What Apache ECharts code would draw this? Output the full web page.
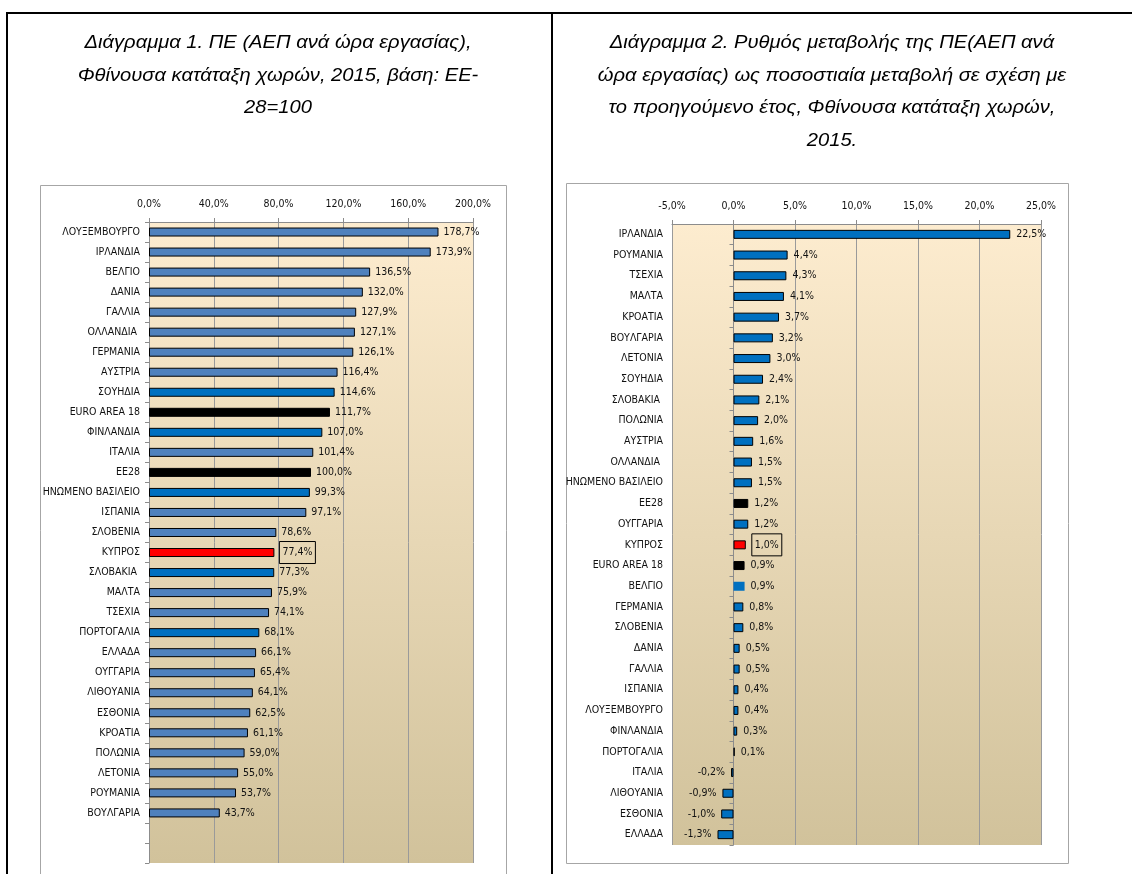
<!DOCTYPE html>
<html><head><meta charset="utf-8">
<script src="https://cdn.jsdelivr.net/npm/echarts@6/dist/echarts.min.js"></script>
<style>html,body{margin:0;padding:0;background:#fff}#c{width:1132px;height:874px}</style>
</head><body><div id="c"></div>
<script>
// ---- Data: Chart 1 (productivity, EU28=100) ----
const leftCategories = ['ΛΟΥΞΕΜΒΟΥΡΓΟ','ΙΡΛΑΝΔΙΑ','ΒΕΛΓΙΟ','ΔΑΝΙΑ','ΓΑΛΛΙΑ','ΟΛΛΑΝΔΙΑ ','ΓΕΡΜΑΝΙΑ','ΑΥΣΤΡΙΑ','ΣΟΥΗΔΙΑ','EURO AREA 18','ΦΙΝΛΑΝΔΙΑ','ΙΤΑΛΙΑ','ΕΕ28','ΗΝΩΜΕΝΟ ΒΑΣΙΛΕΙΟ','ΙΣΠΑΝΙΑ','ΣΛΟΒΕΝΙΑ','ΚΥΠΡΟΣ','ΣΛΟΒΑΚΙΑ ','ΜΑΛΤΑ','ΤΣΕΧΙΑ','ΠΟΡΤΟΓΑΛΙΑ','ΕΛΛΑΔΑ','ΟΥΓΓΑΡΙΑ','ΛΙΘΟΥΑΝΙΑ','ΕΣΘΟΝΙΑ','ΚΡΟΑΤΙΑ','ΠΟΛΩΝΙΑ','ΛΕΤΟΝΙΑ','ΡΟΥΜΑΝΙΑ','ΒΟΥΛΓΑΡΙΑ','',''];
const leftValues = [178.7,173.9,136.5,132.0,127.9,127.1,126.1,116.4,114.6,111.7,107.0,101.4,100.0,99.3,97.1,78.6,77.4,77.3,75.9,74.1,68.1,66.1,65.4,64.1,62.5,61.1,59.0,55.0,53.7,43.7];
const leftAxis = {min: 0, max: 200, interval: 40};

// ---- Data: Chart 2 (annual % change) ----
const rightCategories = ['ΙΡΛΑΝΔΙΑ','ΡΟΥΜΑΝΙΑ','ΤΣΕΧΙΑ','ΜΑΛΤΑ','ΚΡΟΑΤΙΑ','ΒΟΥΛΓΑΡΙΑ','ΛΕΤΟΝΙΑ','ΣΟΥΗΔΙΑ','ΣΛΟΒΑΚΙΑ ','ΠΟΛΩΝΙΑ','ΑΥΣΤΡΙΑ','ΟΛΛΑΝΔΙΑ ','ΗΝΩΜΕΝΟ ΒΑΣΙΛΕΙΟ','ΕΕ28','ΟΥΓΓΑΡΙΑ','ΚΥΠΡΟΣ','EURO AREA 18','ΒΕΛΓΙΟ','ΓΕΡΜΑΝΙΑ','ΣΛΟΒΕΝΙΑ','ΔΑΝΙΑ','ΓΑΛΛΙΑ','ΙΣΠΑΝΙΑ','ΛΟΥΞΕΜΒΟΥΡΓΟ','ΦΙΝΛΑΝΔΙΑ','ΠΟΡΤΟΓΑΛΙΑ','ΙΤΑΛΙΑ','ΛΙΘΟΥΑΝΙΑ','ΕΣΘΟΝΙΑ','ΕΛΛΑΔΑ'];
const rightValues = [22.5,4.4,4.3,4.1,3.7,3.2,3.0,2.4,2.1,2.0,1.6,1.5,1.5,1.2,1.2,1.0,0.9,0.9,0.8,0.8,0.5,0.5,0.4,0.4,0.3,0.1,-0.2,-0.9,-1.0,-1.3];
const rightAxis = {min: -5, max: 25, interval: 5};

// ---- Titles ----
const leftTitle = ['Διάγραμμα 1. ΠΕ (ΑΕΠ ανά ώρα εργασίας),','Φθίνουσα κατάταξη χωρών, 2015, βάση: ΕΕ-','28=100'];
const rightTitle = ['Διάγραμμα 2. Ρυθμός μεταβολής της ΠΕ(ΑΕΠ ανά','ώρα εργασίας) ως ποσοστιαία μεταβολή σε σχέση με','το προηγούμενο έτος, Φθίνουσα κατάταξη χωρών,','2015.'];

// ---- Highlight groups ----
const aggregates = ['EURO AREA 18','ΕΕ28'];
const highlighted = ['ΚΥΠΡΟΣ'];
const brightLeft = ['ΣΟΥΗΔΙΑ','ΦΙΝΛΑΝΔΙΑ','ΗΝΩΜΕΝΟ ΒΑΣΙΛΕΙΟ','ΣΛΟΒΑΚΙΑ ','ΠΟΡΤΟΓΑΛΙΑ'];
const noBorderRight = ['ΒΕΛΓΙΟ'];

const FONT = "'DejaVu Sans Condensed','Liberation Sans Narrow',sans-serif";
const FS = 10.5;
const fmt = v => v.toFixed(1).replace('.', ',') + '%';
const bg = {type:'linear',x:0,y:0,x2:0,y2:1,colorStops:[{offset:0,color:'#FDECCF'},{offset:1,color:'#D1C29B'}]};

function itemFor(name, v, side) {
  let color = side === 'left' ? (brightLeft.includes(name) ? '#0070C0' : '#4F81BD') : '#0070C0';
  let borderWidth = 1;
  if (aggregates.includes(name)) color = '#000000';
  if (highlighted.includes(name)) color = '#FF0000';
  if (side === 'right' && noBorderRight.includes(name)) borderWidth = 0;
  const item = {value: v, itemStyle: {color, borderColor: '#000', borderWidth}};
  const label = {};
  if (highlighted.includes(name)) Object.assign(label, {borderColor:'#000', borderWidth:1, padding:[6,3,5,3]});
  if (v < 0) label.position = 'left';
  item.label = label;
  return item;
}

// Title text: Arial italic, slightly widened like the reference
const TITLE_FONT = "italic 18px 'Liberation Sans', Arial, sans-serif";
const titleScale = 1.12;
function titleLines(lines, cx, y0, step) {
  return lines.map((t, i) => ({
    type: 'text', x: cx, y: y0 + i * step, scaleX: titleScale,
    style: {text: t, font: TITLE_FONT, fill: '#000', textAlign: 'center', textVerticalAlign: 'bottom'}
  }));
}

const chart = echarts.init(document.getElementById('c'), null, {renderer:'canvas'});
const axisGray = '#8C8C8C';
const catLabel = {fontFamily: FONT, fontSize: FS, color: '#111', margin: 9};
const valLabel = {fontFamily: FONT, fontSize: FS, color: '#111', margin: 12, formatter: fmt};

chart.setOption({
  animation: false,
  graphic: [
    {type:'line', shape:{x1:7, y1:13, x2:1132, y2:13}, style:{stroke:'#000', lineWidth:2}},
    {type:'line', shape:{x1:7, y1:12, x2:7, y2:874}, style:{stroke:'#000', lineWidth:2}},
    {type:'line', shape:{x1:552, y1:12, x2:552, y2:874}, style:{stroke:'#000', lineWidth:2}},
    {type:'rect', shape:{x:40.5, y:185.5, width:466, height:720}, style:{fill:null, stroke:'#A6A6A6', lineWidth:1}},
    {type:'rect', shape:{x:566.5, y:183.5, width:502, height:680}, style:{fill:null, stroke:'#A6A6A6', lineWidth:1}},
    ...titleLines(leftTitle, 278, 52, 32.5),
    ...titleLines(rightTitle, 832, 52, 32.5)
  ],
  grid: [
    {left:149, top:222, width:324, height:641, show:true, backgroundColor:bg, borderWidth:0},
    {left:672, top:224, width:369, height:621, show:true, backgroundColor:bg, borderWidth:0}
  ],
  xAxis: [
    {type:'value', gridIndex:0, position:'top', min:leftAxis.min, max:leftAxis.max, interval:leftAxis.interval,
     axisLine:{show:true, lineStyle:{color:axisGray}}, axisTick:{show:true, length:4, lineStyle:{color:axisGray}},
     splitLine:{show:true, lineStyle:{color:'#9A9A9A'}}, axisLabel:valLabel},
    {type:'value', gridIndex:1, position:'top', min:rightAxis.min, max:rightAxis.max, interval:rightAxis.interval,
     axisLine:{show:true, lineStyle:{color:axisGray}}, axisTick:{show:true, length:4, lineStyle:{color:axisGray}},
     splitLine:{show:true, lineStyle:{color:'#9A9A9A'}}, axisLabel:valLabel}
  ],
  yAxis: [
    {type:'category', gridIndex:0, inverse:true, data:leftCategories, position:'left',
     axisLine:{show:true, onZero:false, lineStyle:{color:axisGray}}, axisTick:{show:true, length:4, lineStyle:{color:axisGray}},
     axisLabel:catLabel},
    {type:'category', gridIndex:1, inverse:true, data:rightCategories, position:'left',
     axisLine:{show:false, onZero:false}, axisTick:{show:false}, axisLabel:catLabel},
    {type:'category', gridIndex:1, inverse:true, data:rightCategories, position:'left',
     axisLine:{show:true, onZero:true, lineStyle:{color:axisGray}}, axisTick:{show:true, length:4, lineStyle:{color:axisGray}},
     axisLabel:{show:false}}
  ],
  series: [
    {type:'bar', xAxisIndex:0, yAxisIndex:0, barWidth:9,
     data: leftValues.map((v,i) => itemFor(leftCategories[i], v, 'left')),
     label:{show:true, position:'right', distance:5, formatter: p => fmt(p.value), fontFamily:FONT, fontSize:FS, color:'#111'}},
    {type:'bar', xAxisIndex:1, yAxisIndex:1, barWidth:9,
     data: rightValues.map((v,i) => itemFor(rightCategories[i], v, 'right')),
     label:{show:true, position:'right', distance:6, formatter: p => fmt(p.value), fontFamily:FONT, fontSize:FS, color:'#111'}}
  ]
});
</script></body></html>
